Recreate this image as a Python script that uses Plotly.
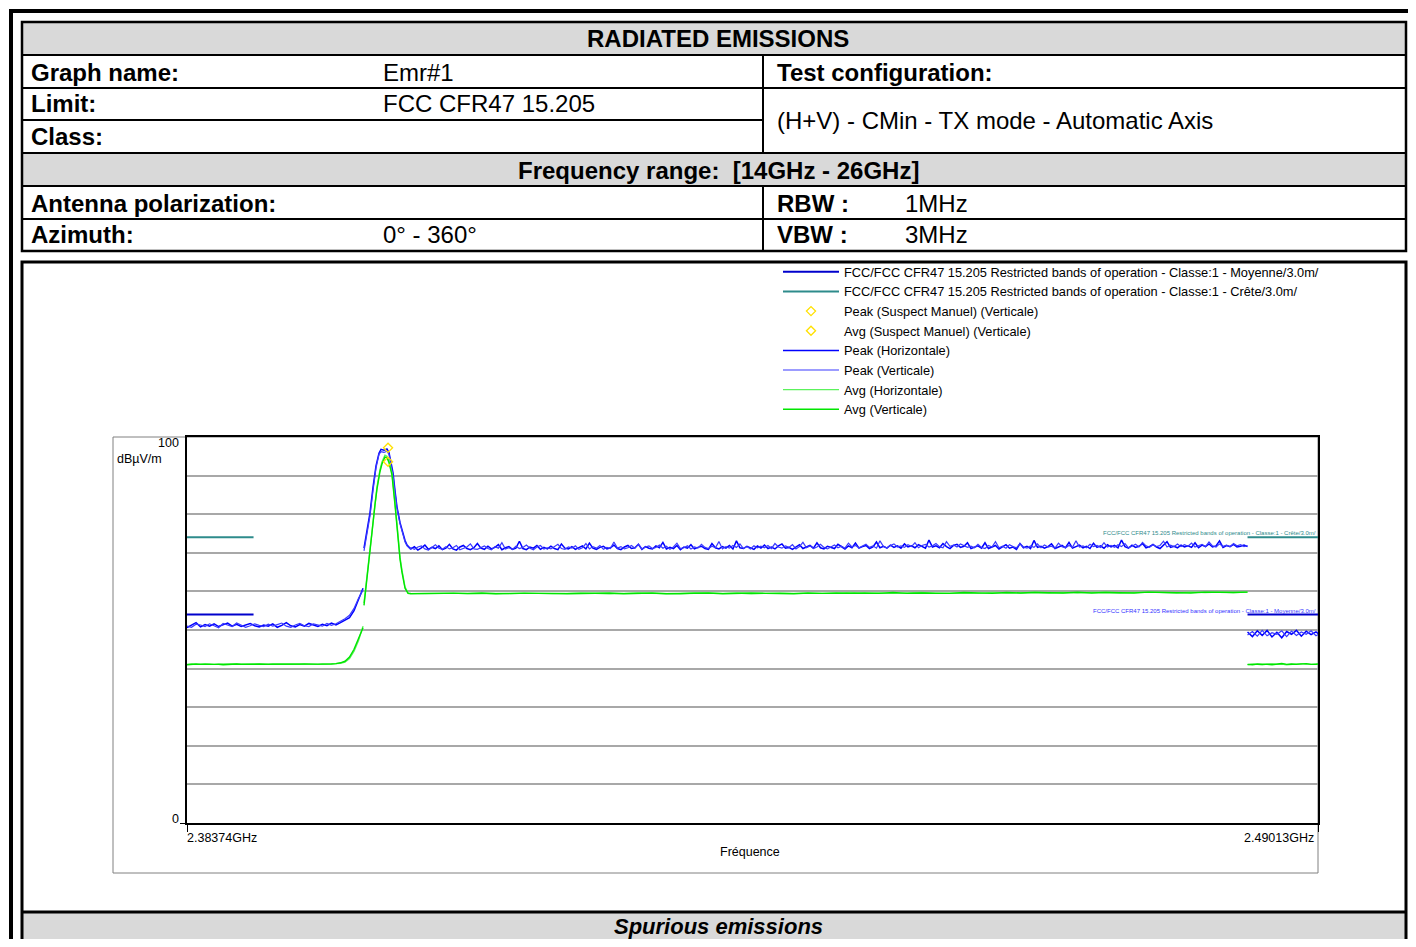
import numpy as np
import plotly.graph_objects as go

# the page body keeps its 8px margin, so the figure is made to fit inside it
WF, HF = 1400, 931
OFF = 8
FONT = "Liberation Sans, Arial, sans-serif"

# sweep / axis
F_START, F_STOP = 2.38374, 2.49013
X_TICK_LABELS = ["2.38374GHz", "2.49013GHz"]
Y_TICKS = [0, 100]
Y_TICK_TEXT = ["0", "100"]

# FCC 15.205 restricted bands inside the sweep
BAND_LOW = [2.38374, 2.39]
BAND_HIGH = [2.4835, 2.49013]
LIMIT_AVG = 54.0
LIMIT_PK = 74.0

# suspects (manual, vertical)
SUSPECT_F = [2.40265]
SUSPECT_PK = [97.2]
SUSPECT_AV = [93.6]

# --- left sub-sweep (2.38374 - 2.4003 GHz)
left_f = np.linspace(2.38374, 2.40030, 40)
pk_h_left = [50.6, 51.2, 51.9, 50.8, 51.4, 51.0, 51.6, 50.9, 51.3, 51.8,
             51.0, 51.5, 50.9, 51.2, 51.7, 51.1, 50.8, 51.3, 51.0, 51.6,
             50.7, 51.2, 51.9, 51.1, 50.8, 51.4, 51.0, 51.7, 51.2, 50.9,
             51.5, 51.1, 51.8, 51.3, 51.9, 52.5, 53.2, 55.0, 57.8, 60.8]
pk_v_left = [51.0, 50.7, 51.5, 51.3, 50.9, 51.6, 51.1, 50.6, 51.7, 51.2,
             50.9, 51.8, 51.3, 50.7, 51.1, 51.6, 51.2, 50.9, 51.5, 51.0,
             51.4, 51.8, 51.0, 50.7, 51.3, 51.7, 51.1, 50.9, 51.6, 51.3,
             51.0, 51.7, 51.2, 51.6, 52.2, 52.9, 53.8, 55.6, 58.2, 60.4]
av_h_left = [41.1, 41.2, 41.1, 41.2, 41.3, 41.2, 41.1, 41.2, 41.2, 41.1,
             41.2, 41.1, 41.2, 41.2, 41.1, 41.2, 41.3, 41.2, 41.1, 41.2,
             41.2, 41.1, 41.2, 41.2, 41.1, 41.2, 41.3, 41.2, 41.2, 41.1,
             41.2, 41.2, 41.3, 41.3, 41.4, 41.7, 42.6, 44.5, 47.3, 51.0]
av_v_left = [41.0, 41.1, 41.2, 41.1, 41.1, 41.2, 41.2, 41.1, 41.0, 41.1,
             41.2, 41.2, 41.1, 41.1, 41.2, 41.1, 41.1, 41.2, 41.2, 41.1,
             41.1, 41.2, 41.1, 41.1, 41.2, 41.2, 41.1, 41.1, 41.2, 41.2,
             41.1, 41.1, 41.2, 41.3, 41.5, 41.9, 43.0, 45.0, 47.9, 50.6]

# --- carrier region
pk_peak_f = [2.40039, 2.40067, 2.40095, 2.40124, 2.40152, 2.40180, 2.40199,
             2.40227, 2.40255, 2.40274, 2.40293, 2.40312, 2.40331, 2.40349,
             2.40378, 2.40396, 2.40425, 2.40444, 2.40472]
pk_h_peak = [71.2, 75.5, 80.3, 87.0, 92.5, 95.8, 96.8, 96.6, 96.9, 96.0,
             93.5, 90.7, 86.0, 81.9, 77.8, 75.9, 73.2, 72.0, 71.2]
pk_v_peak = [70.5, 74.8, 79.5, 86.2, 92.0, 95.5, 96.2, 96.0, 96.3, 95.5,
             93.0, 90.0, 85.5, 81.5, 77.5, 75.5, 72.8, 71.8, 71.0]
av_peak_f = [2.40039, 2.40067, 2.40095, 2.40114, 2.40142, 2.40161, 2.40189,
             2.40208, 2.40236, 2.40255, 2.40274, 2.40302, 2.40331, 2.40359,
             2.40378, 2.40396, 2.40425, 2.40453, 2.40472]
av_h_peak = [57.0, 63.7, 71.0, 75.9, 83.0, 87.0, 91.5, 93.5, 95.3, 95.0,
             93.8, 90.7, 82.9, 74.1, 68.8, 65.5, 61.1, 59.6, 59.4]
av_v_peak = [56.4, 63.0, 70.2, 75.2, 82.4, 86.5, 91.0, 93.0, 94.8, 94.6,
             93.4, 90.2, 82.3, 73.6, 68.3, 65.0, 60.8, 59.5, 59.3]

# --- noise floor after the carrier (2.4048 - 2.4835 GHz), 240 pts
pk_flat_f = np.linspace(2.40480, 2.4835, 240)
pk_h_flat = [
    71.0, 71.6, 70.7, 71.3, 72.0, 70.9, 71.4, 71.1, 71.8, 70.8, 71.2, 72.2, 71.0, 70.7, 71.5, 71.9, 71.1, 70.8, 71.3, 72.4,
    71.2, 70.9, 71.7, 71.0, 71.4, 72.1, 70.8, 71.3, 71.6, 70.9, 71.2, 73.0, 71.1, 70.8, 71.5, 71.2, 71.9, 70.9, 71.4, 71.0,
    71.7, 71.1, 70.8, 72.3, 71.2, 71.0, 71.6, 70.9, 71.3, 71.8, 71.0, 72.5, 71.2, 70.9, 71.4, 71.7, 71.0, 71.3, 72.0, 71.1,
    70.8, 71.5, 71.9, 71.1, 71.3, 72.2, 70.9, 71.6, 71.2, 71.0, 71.8, 71.3, 72.7, 71.0, 71.4, 71.1, 71.9, 70.8, 71.5, 71.2,
    72.1, 71.0, 71.4, 71.7, 71.1, 70.9, 72.4, 71.3, 71.0, 71.6, 71.2, 71.9, 71.0, 73.1, 71.3, 71.1, 71.7, 71.4, 70.9, 71.8,
    71.2, 72.0, 71.1, 71.5, 71.0, 71.8, 72.3, 71.2, 71.4, 70.9, 71.6, 72.1, 71.1, 71.5, 71.9, 71.2, 72.6, 71.3, 71.0, 71.7,
    71.4, 71.1, 72.2, 71.6, 71.0, 71.8, 71.3, 72.5, 71.2, 71.6, 71.9, 71.1, 71.5, 72.8, 71.3, 71.7, 71.2, 72.0, 71.4, 71.8,
    71.2, 72.3, 71.5, 71.8, 71.3, 72.1, 71.6, 71.2, 73.3, 71.5, 71.8, 71.3, 72.4, 71.6, 71.1, 71.9, 72.2, 71.4, 71.7, 72.6,
    71.1, 71.5, 71.8, 71.2, 72.6, 71.1, 71.4, 71.9, 71.0, 71.6, 72.1, 71.2, 71.5, 70.9, 72.4, 71.3, 71.7, 71.1, 73.2, 71.4,
    71.7, 71.2, 71.6, 72.3, 71.1, 71.5, 71.9, 71.3, 72.7, 71.2, 71.6, 72.0, 71.3, 71.7, 71.1, 72.5, 71.4, 71.8, 71.2, 72.1,
    71.5, 71.9, 71.3, 73.3, 71.6, 71.2, 72.0, 71.4, 71.7, 72.4, 71.3, 71.6, 72.2, 71.5, 71.1, 71.9, 72.9, 71.4, 71.7, 71.3,
    72.0, 71.5, 71.8, 71.4, 72.6, 71.3, 72.0, 71.6, 72.3, 71.5, 71.8, 73.1, 71.4, 71.9, 71.6, 72.2, 71.5, 71.7, 72.0, 71.6]
pk_v_flat = [
    71.3, 70.9, 71.5, 71.8, 71.0, 70.7, 71.4, 72.1, 71.2, 70.9, 71.6, 71.0, 71.3, 71.9, 70.8, 71.2, 71.5, 72.3, 71.0, 70.9,
    71.4, 71.8, 71.1, 70.8, 71.6, 71.2, 72.6, 71.0, 71.3, 70.9, 71.7, 71.1, 71.4, 72.0, 71.2, 70.8, 71.5, 71.9, 71.0, 71.3,
    71.0, 71.6, 72.2, 71.1, 70.9, 71.5, 71.2, 71.8, 70.9, 71.3, 72.4, 71.0, 71.6, 71.2, 71.9, 70.9, 71.4, 71.1, 72.8, 71.2,
    71.6, 71.0, 71.3, 71.9, 71.2, 72.3, 71.0, 71.5, 71.8, 71.1, 71.4, 72.0, 71.2, 71.7, 70.9, 71.5, 72.5, 71.1, 71.3, 71.8,
    71.0, 71.5, 71.2, 72.2, 71.4, 71.1, 71.7, 71.3, 72.9, 71.0, 71.6, 71.2, 71.9, 71.4, 72.3, 71.1, 71.6, 71.0, 71.8, 71.3,
    71.7, 71.3, 71.9, 71.1, 72.4, 71.5, 71.2, 71.8, 71.4, 72.1, 71.0, 71.6, 72.7, 71.3, 71.8, 71.1, 71.5, 72.2, 71.4, 71.0,
    71.6, 72.0, 71.3, 71.7, 71.2, 72.5, 71.5, 71.9, 71.3, 71.7, 72.2, 71.4, 71.8, 71.2, 73.1, 71.6, 71.3, 71.9, 72.3, 71.5,
    71.8, 71.4, 72.1, 71.6, 72.6, 71.3, 71.9, 72.2, 71.5, 71.8, 72.4, 71.6, 71.3, 72.9, 71.7, 72.0, 71.5, 72.3, 71.8, 71.4,
    71.7, 71.3, 72.2, 71.4, 71.1, 71.9, 71.5, 72.9, 71.3, 71.7, 71.2, 72.1, 71.6, 71.3, 72.4, 71.5, 71.2, 71.8, 71.4, 72.3,
    71.3, 72.0, 71.5, 71.7, 71.2, 72.5, 71.6, 71.3, 71.9, 71.4, 73.1, 71.5, 71.8, 71.3, 72.2, 71.6, 71.9, 71.4, 72.6, 71.5,
    71.9, 71.4, 72.1, 71.6, 72.4, 71.3, 71.7, 72.2, 71.5, 72.7, 71.8, 71.4, 72.1, 71.6, 71.9, 73.0, 71.5, 72.0, 71.6, 72.3,
    71.6, 72.1, 71.7, 72.5, 71.5, 71.9, 72.2, 71.6, 72.8, 71.8, 71.5, 72.3, 71.7, 72.0, 71.6, 72.4, 71.8, 72.1, 71.6, 71.9]
av_flat_f = np.linspace(2.40480, 2.4835, 60)
av_h_flat = [59.5, 59.4, 59.5, 59.6, 59.4, 59.5, 59.5, 59.4, 59.6, 59.5, 59.4, 59.5, 59.6, 59.5, 59.4,
             59.5, 59.6, 59.5, 59.5, 59.4, 59.6, 59.5, 59.5, 59.6, 59.4, 59.5, 59.6, 59.5, 59.5, 59.6,
             59.5, 59.7, 59.5, 59.6, 59.5, 59.6, 59.7, 59.5, 59.6, 59.6, 59.5, 59.7, 59.6, 59.6, 59.8,
             59.6, 59.7, 59.6, 59.7, 59.8, 59.6, 59.7, 59.8, 59.7, 59.6, 59.8, 59.7, 59.8, 59.7, 59.8]
av_v_flat = [59.4, 59.5, 59.5, 59.4, 59.5, 59.6, 59.4, 59.5, 59.5, 59.6, 59.5, 59.4, 59.5, 59.5, 59.6,
             59.4, 59.5, 59.6, 59.4, 59.5, 59.5, 59.6, 59.4, 59.5, 59.6, 59.5, 59.5, 59.4, 59.6, 59.5,
             59.6, 59.5, 59.6, 59.5, 59.7, 59.5, 59.6, 59.6, 59.5, 59.7, 59.6, 59.5, 59.7, 59.6, 59.7,
             59.6, 59.6, 59.8, 59.6, 59.7, 59.7, 59.6, 59.8, 59.7, 59.7, 59.6, 59.8, 59.7, 59.7, 59.8]

# --- right sub-sweep (2.4835 - 2.4904 GHz)
right_f = np.linspace(2.4835, 2.4904, 16)
pk_h_right = [49.5, 48.3, 49.8, 48.6, 49.9, 48.2, 49.4, 48.0, 49.6, 48.9, 49.9, 48.4, 49.7, 48.8, 49.5, 48.6]
pk_v_right = [48.7, 49.6, 48.4, 49.9, 48.5, 49.3, 48.9, 49.8, 48.3, 49.7, 48.6, 49.5, 48.9, 49.8, 48.5, 49.2]
av_h_right = [41.0, 41.2, 41.1, 41.0, 41.2, 41.3, 41.1, 41.2, 41.0, 41.1, 41.2, 41.3, 41.2, 41.1, 41.2, 41.2]
av_v_right = [41.1, 41.0, 41.2, 41.2, 41.1, 41.0, 41.2, 41.3, 41.1, 41.2, 41.1, 41.2, 41.3, 41.1, 41.1, 41.3]

LIMIT_NAME_AVG = "FCC/FCC CFR47 15.205 Restricted bands of operation - Classe:1 - Moyenne/3.0m/"
LIMIT_NAME_PK = "FCC/FCC CFR47 15.205 Restricted bands of operation - Classe:1 - Crête/3.0m/"


def px(x):
    return (x - OFF) / WF


def py(y):
    return 1 - (y - OFF) / HF


def join(*parts):
    out = []
    for i, p in enumerate(parts):
        if i:
            out.append(None)
        out.extend(list(p))
    return out


def sweep(left, mid_f, mid, flat_f, flat, right):
    xs = join(left_f, list(mid_f) + list(flat_f), right_f)
    ys = join(left, list(mid) + list(flat), right)
    return xs, ys


fig = go.Figure()

lim_x = join(BAND_LOW, BAND_HIGH)
fig.add_trace(go.Scatter(x=lim_x, y=join([LIMIT_AVG] * 2, [LIMIT_AVG] * 2), mode="lines",
                         line=dict(color="#0000cc", width=2), name=LIMIT_NAME_AVG, legendrank=1))
fig.add_trace(go.Scatter(x=lim_x, y=join([LIMIT_PK] * 2, [LIMIT_PK] * 2), mode="lines",
                         line=dict(color="#2e8b8b", width=2), name=LIMIT_NAME_PK, legendrank=2))

x, y = sweep(pk_h_left, pk_peak_f, pk_h_peak, pk_flat_f, pk_h_flat, pk_h_right)
fig.add_trace(go.Scatter(x=x, y=y, mode="lines", line=dict(color="#0000ff", width=1.5),
                         name="Peak (Horizontale)", legendrank=5))
x, y = sweep(pk_v_left, pk_peak_f, pk_v_peak, pk_flat_f, pk_v_flat, pk_v_right)
fig.add_trace(go.Scatter(x=x, y=y, mode="lines", line=dict(color="#3a3aff", width=1.2),
                         name="Peak (Verticale)", legendrank=6))
x, y = sweep(av_h_left, av_peak_f, av_h_peak, av_flat_f, av_h_flat, av_h_right)
fig.add_trace(go.Scatter(x=x, y=y, mode="lines", line=dict(color="#5cf25c", width=1.4),
                         name="Avg (Horizontale)", legendrank=7))
x, y = sweep(av_v_left, av_peak_f, av_v_peak, av_flat_f, av_v_flat, av_v_right)
fig.add_trace(go.Scatter(x=x, y=y, mode="lines", line=dict(color="#00e600", width=1.4),
                         name="Avg (Verticale)", legendrank=8))

fig.add_trace(go.Scatter(x=SUSPECT_F, y=SUSPECT_PK, mode="markers",
                         marker=dict(symbol="diamond-open", size=7, color="#ffe000", line=dict(width=1.3)),
                         name="Peak (Suspect Manuel) (Verticale)", legendrank=3))
fig.add_trace(go.Scatter(x=SUSPECT_F, y=SUSPECT_AV, mode="markers",
                         marker=dict(symbol="diamond-open", size=7, color="#ffe000", line=dict(width=1.3)),
                         name="Avg (Suspect Manuel) (Verticale)", legendrank=4))

shapes = []
ann = []


def rect(x0, y0, x1, y1, color="black", width=2, fill=None):
    shapes.append(dict(type="rect", xref="paper", yref="paper", x0=px(x0), x1=px(x1), y0=py(y1), y1=py(y0),
                       line=dict(color=color, width=width), fillcolor=fill, layer="below"))


def hline(x0, x1, y, width=2, color="black"):
    shapes.append(dict(type="line", xref="paper", yref="paper", x0=px(x0), x1=px(x1), y0=py(y), y1=py(y),
                       line=dict(color=color, width=width)))


def vline(x, y0, y1, width=2, color="black"):
    shapes.append(dict(type="line", xref="paper", yref="paper", x0=px(x), x1=px(x), y0=py(y0), y1=py(y1),
                       line=dict(color=color, width=width)))


def text(x, y, s, size=24, bold=False, italic=False, anchor="left", color="black"):
    if bold:
        s = "<b>" + s + "</b>"
    if italic:
        s = "<i>" + s + "</i>"
    ann.append(dict(xref="paper", yref="paper", x=px(x), y=py(y), text=s, showarrow=False,
                    xanchor=anchor, yanchor="middle", font=dict(family=FONT, size=size, color=color)))


RIGHT = 1406  # last visible column of the page

# outer page frame
hline(9, 1420, 11, width=4)
vline(11, 9, 960, width=4)

# header table
rect(22, 22, RIGHT, 55, fill="#d9d9d9", width=0)
rect(22, 153, RIGHT, 186, fill="#d9d9d9", width=0)
for yy in [55, 88, 153, 186, 219]:
    hline(22, RIGHT, yy)
hline(22, 763, 120)
vline(763, 55, 153)
vline(763, 186, 251)
rect(22, 22, RIGHT, 251, width=2.5)

text(718, 39, "RADIATED EMISSIONS", bold=True, anchor="center")
text(29, 72, "Graph name:", bold=True)
text(381, 72, "Emr#1")
text(775, 72, "Test configuration:", bold=True)
text(29, 104, "Limit:", bold=True)
text(381, 104, "FCC CFR47 15.205")
text(29, 137, "Class:", bold=True)
text(775, 121, "(H+V) - CMin - TX mode - Automatic Axis")
text(718, 170, "Frequency range:  [14GHz - 26GHz]", bold=True, anchor="center")
text(29, 203, "Antenna polarization:", bold=True)
text(775, 203, "RBW :", bold=True)
text(903, 203, "1MHz")
text(29, 235, "Azimuth:", bold=True)
text(381, 235, "0° - 360°")
text(775, 235, "VBW :", bold=True)
text(903, 235, "3MHz")

# chart panel + bottom band
rect(22, 912, RIGHT, 960, fill="#d9d9d9", width=0)
rect(22, 262, RIGHT, 960, width=3)
hline(22, RIGHT, 912, width=3)
text(718, 926, "Spurious emissions", size=22, bold=True, italic=True, anchor="center")

# plot frame
rect(113, 437, 1318, 873, color="#808080", width=1)

# axis texts
text(181, 443, Y_TICK_TEXT[1], size=12.5, anchor="right")
text(181, 819, Y_TICK_TEXT[0], size=12.5, anchor="right")
text(164, 459, "dBµV/m", size=12.5, anchor="right")
text(185, 838, X_TICK_LABELS[0], size=12.5, anchor="left")
text(1316, 838, X_TICK_LABELS[1], size=12.5, anchor="right")
text(750, 852, "Fréquence", size=12.5, anchor="center")

# limit labels
ann.append(dict(x=F_STOP, y=LIMIT_PK, xref="x", yref="y", text=LIMIT_NAME_PK, showarrow=False,
                xanchor="right", yanchor="bottom", yshift=-1, font=dict(family=FONT, size=6, color="#2e8b8b")))
ann.append(dict(x=F_STOP, y=LIMIT_AVG, xref="x", yref="y", text=LIMIT_NAME_AVG, showarrow=False,
                xanchor="right", yanchor="bottom", yshift=-1, font=dict(family=FONT, size=6, color="#3333ff")))

fig.update_layout(
    width=WF, height=HF, autosize=False,
    margin=dict(l=0, r=0, t=0, b=0),
    paper_bgcolor="white", plot_bgcolor="white",
    font=dict(family=FONT, size=12.5, color="black"),
    shapes=shapes, annotations=ann,
    showlegend=True,
    legend=dict(x=px(778), y=py(257), xanchor="left", yanchor="top", bgcolor="rgba(0,0,0,0)",
                font=dict(family=FONT, size=12.8), itemwidth=56, traceorder="normal",
                tracegroupgap=0),
    xaxis=dict(domain=[px(187), px(1318)], range=[F_START, F_STOP], showgrid=False, zeroline=False,
               showline=True, linecolor="black", linewidth=1.5, mirror=True,
               tickvals=[F_START, F_STOP], ticks="outside", ticklen=7, tickcolor="black",
               showticklabels=False),
    yaxis=dict(domain=[py(823), py(437)], range=[0, 100], showgrid=False, zeroline=False,
               showline=True, linecolor="black", linewidth=1.5, mirror=True,
               tickvals=[Y_TICKS[0]], ticks="outside", ticklen=5, tickcolor="black",
               showticklabels=False,
               minor=dict(dtick=10, showgrid=True, gridcolor="#a8a8a8", gridwidth=1.5, ticks="")),
)

fig.write_html("out.html")
